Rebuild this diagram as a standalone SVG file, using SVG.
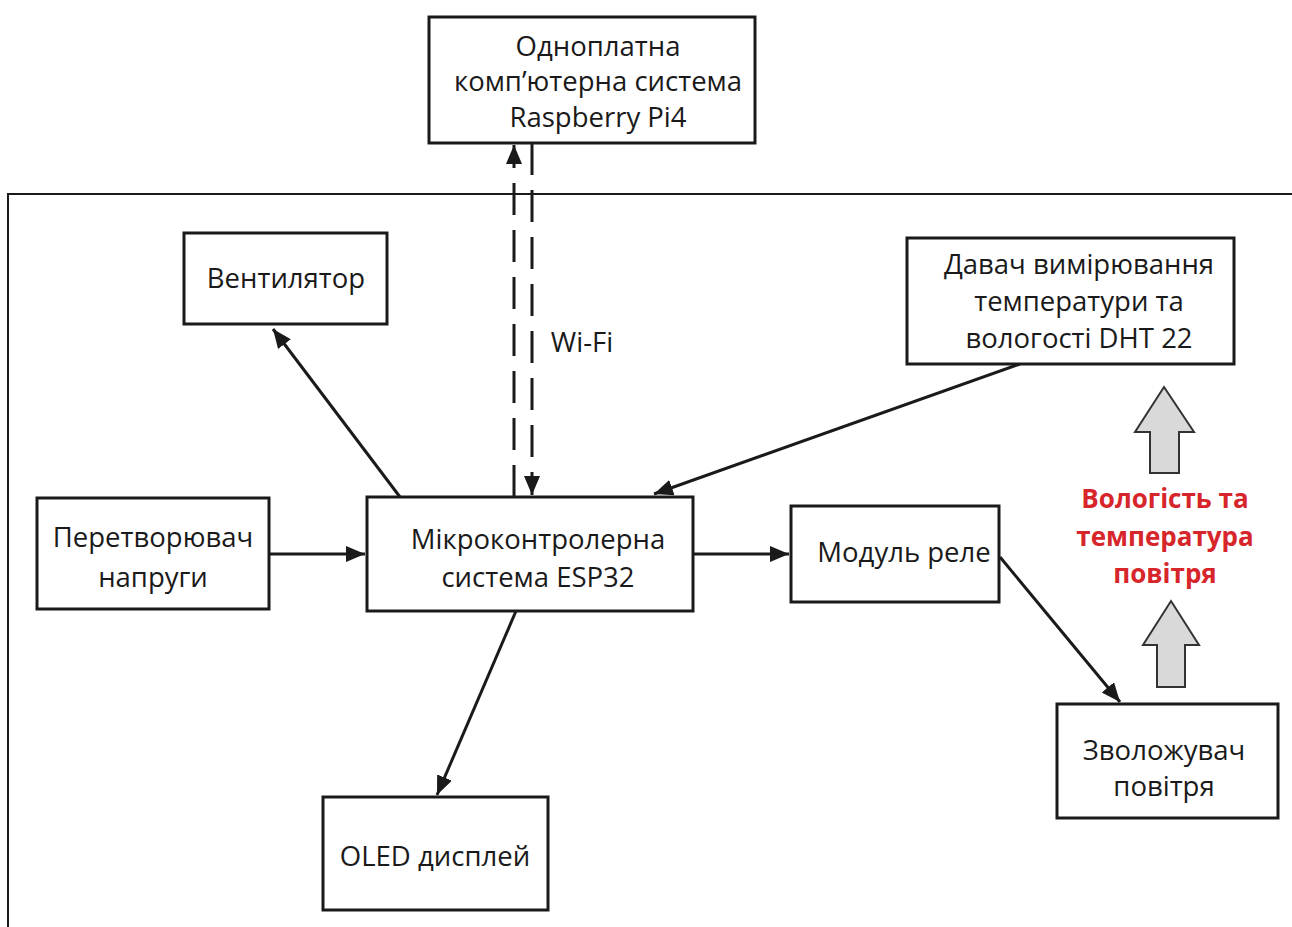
<svg xmlns="http://www.w3.org/2000/svg" width="1292" height="927" viewBox="0 0 1292 927">
<style>
.box{fill:#fff;stroke:#1a1a1a;stroke-width:3}
.t{font-family:"Open Sans","Noto Sans","Liberation Sans",sans-serif;font-size:27.5px;fill:#1a1a1a;text-anchor:middle}
.red{font-family:"Open Sans","Noto Sans","Liberation Sans",sans-serif;font-size:26px;font-weight:bold;fill:#d7262b;text-anchor:middle}
.c{stroke:#1a1a1a;stroke-width:3;fill:none}
.d{stroke:#1a1a1a;stroke-width:3;fill:none;stroke-dasharray:32 15}
.big{fill:#d9d9d9;stroke:#333;stroke-width:2}
</style>
<defs>
<marker id="ah" markerUnits="userSpaceOnUse" markerWidth="22" markerHeight="18" refX="19" refY="8" orient="auto">
<path d="M0,0 L19,8 L0,16 z" fill="#1a1a1a"/>
</marker>
</defs>
<rect width="1292" height="927" fill="#fff"/>
<path d="M1292,194 H8 V927" fill="none" stroke="#1a1a1a" stroke-width="2"/>

<g id="connectors">
<line class="c" x1="400" y1="497" x2="273" y2="329" marker-end="url(#ah)"/>
<line class="c" x1="269" y1="554" x2="365" y2="554" marker-end="url(#ah)"/>
<line class="c" x1="693" y1="554" x2="789" y2="554" marker-end="url(#ah)"/>
<line class="c" x1="1020" y1="364" x2="654" y2="494" marker-end="url(#ah)"/>
<line class="c" x1="516" y1="611" x2="437" y2="795" marker-end="url(#ah)"/>
<line class="c" x1="1000" y1="557" x2="1120" y2="702" marker-end="url(#ah)"/>
<line class="d" x1="514" y1="497" x2="514" y2="145" marker-end="url(#ah)"/>
<line class="d" x1="532" y1="143" x2="532" y2="495" marker-end="url(#ah)"/>
<text class="t" x="582" y="352">Wi-Fi</text>
</g>

<g id="raspberry">
<rect class="box" x="429" y="17" width="326" height="126"/>
<text class="t" x="598" y="56">Одноплатна</text>
<text class="t" x="598" y="91">комп’ютерна система</text>
<text class="t" x="598" y="127">Raspberry Pi4</text>
</g>

<g id="fan">
<rect class="box" x="184" y="233" width="203" height="91"/>
<text class="t" x="286" y="288">Вентилятор</text>
</g>

<g id="converter">
<rect class="box" x="37" y="498" width="232" height="111"/>
<text class="t" x="153" y="547">Перетворювач</text>
<text class="t" x="153" y="587">напруги</text>
</g>

<g id="esp32">
<rect class="box" x="367" y="497" width="326" height="114"/>
<text class="t" x="538" y="549">Мікроконтролерна</text>
<text class="t" x="538" y="587">система ESP32</text>
</g>

<g id="oled">
<rect class="box" x="323" y="797" width="225" height="113"/>
<text class="t" x="435" y="866">OLED дисплей</text>
</g>

<g id="relay">
<rect class="box" x="791" y="506" width="208" height="96"/>
<text class="t" x="904" y="562">Модуль реле</text>
</g>

<g id="dht22">
<rect class="box" x="907" y="238" width="327" height="126"/>
<text class="t" x="1079" y="274">Давач вимірювання</text>
<text class="t" x="1079" y="311">температури та</text>
<text class="t" x="1079" y="348">вологості DHT 22</text>
</g>

<g id="humidifier">
<rect class="box" x="1057" y="704" width="221" height="114"/>
<text class="t" x="1164" y="760">Зволожувач</text>
<text class="t" x="1164" y="796">повітря</text>
</g>

<g id="air">
<polygon class="big" points="1164,387 1194,432 1179,432 1179,473 1150,473 1150,432 1135,432"/>
<text class="red" x="1165" y="508">Вологість та</text>
<text class="red" x="1165" y="546">температура</text>
<text class="red" x="1165" y="583">повітря</text>
<polygon class="big" points="1171,601 1199,645 1185,645 1185,687 1157,687 1157,645 1143,645"/>
</g>
</svg>
